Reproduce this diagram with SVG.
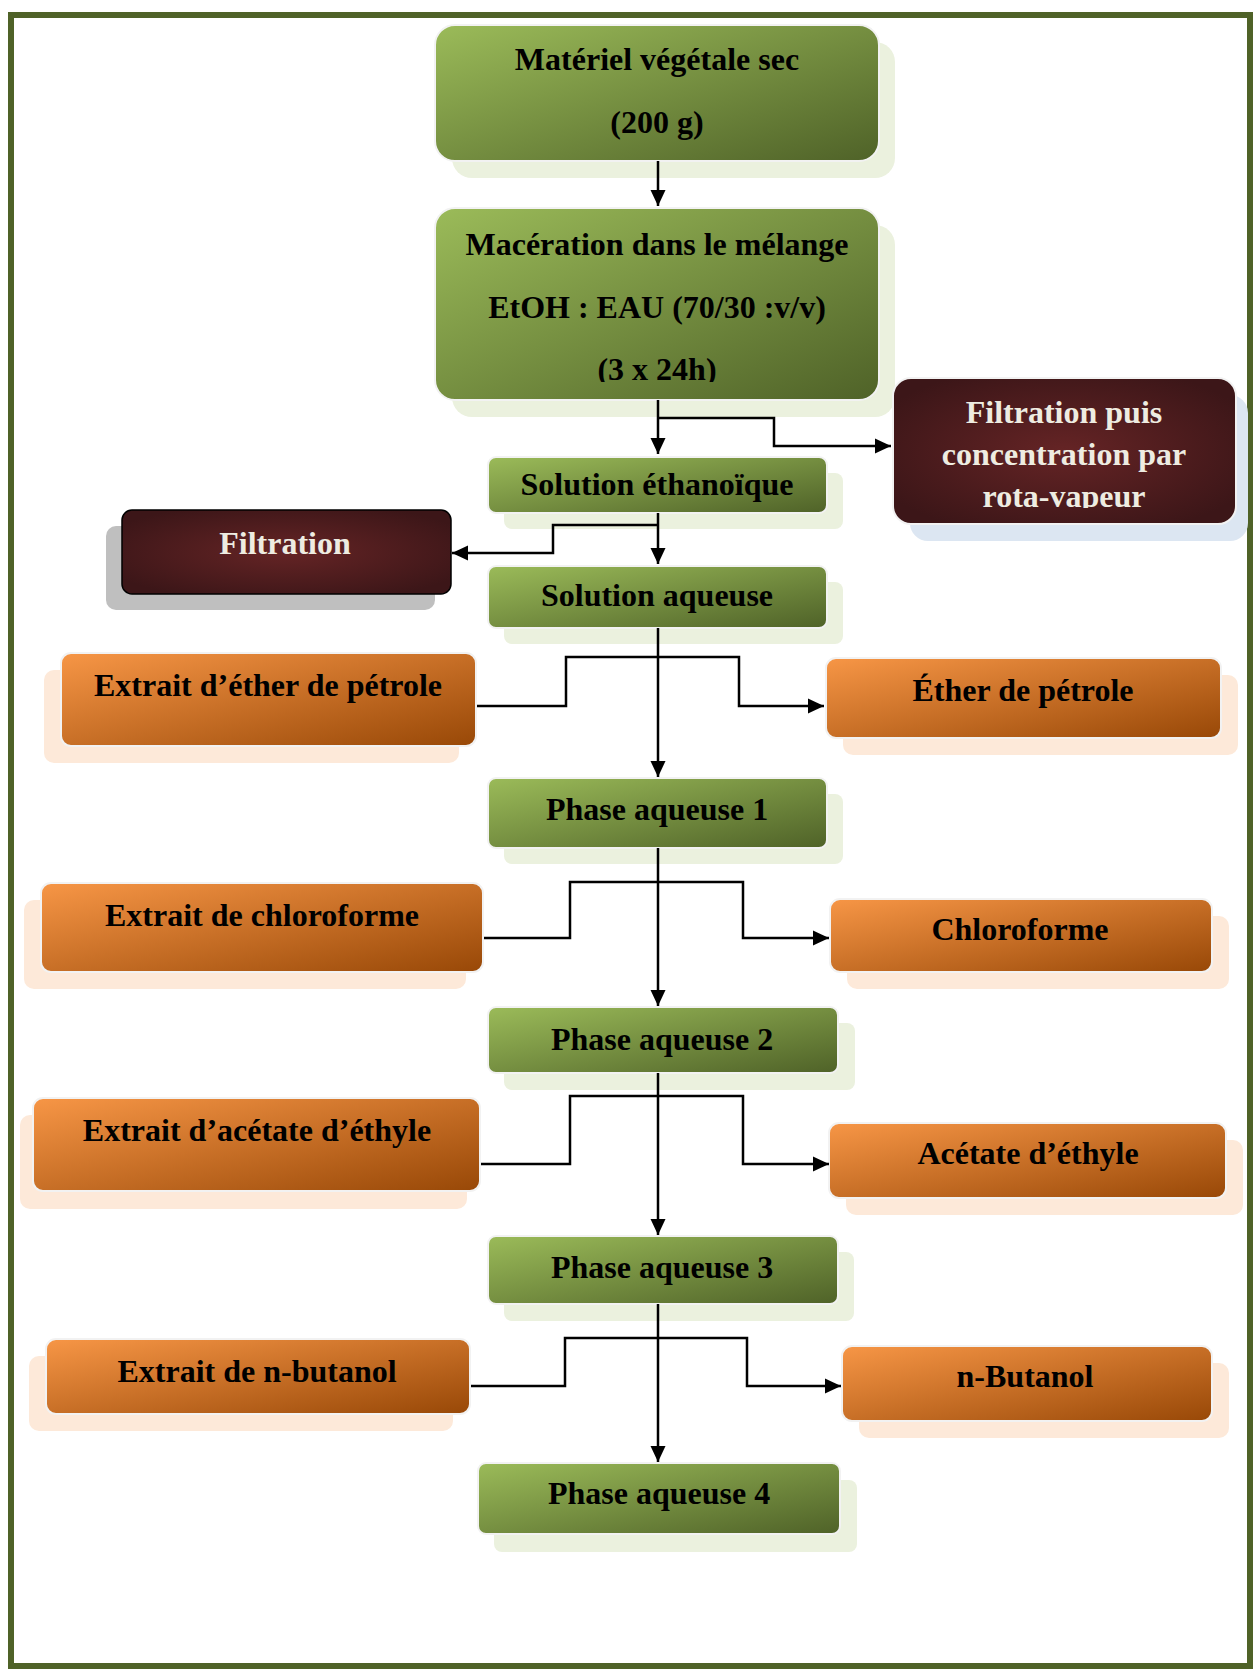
<svg xmlns="http://www.w3.org/2000/svg" width="1253" height="1669" viewBox="0 0 1253 1669">
<defs>
<linearGradient id="gGreen" x1="0" y1="0" x2="1" y2="1">
<stop offset="0" stop-color="#9bbb59"/>
<stop offset="1" stop-color="#4f6228"/>
</linearGradient>
<linearGradient id="gOrange" x1="0" y1="0" x2="1" y2="1">
<stop offset="0" stop-color="#f79646"/>
<stop offset="1" stop-color="#984807"/>
</linearGradient>
<radialGradient id="gRed" cx="0.5" cy="0.5" r="0.6">
<stop offset="0" stop-color="#652425"/>
<stop offset="1" stop-color="#3c1618"/>
</radialGradient>
<marker id="arr" markerUnits="userSpaceOnUse" markerWidth="16" markerHeight="16" refX="16" refY="8" orient="auto">
<path d="M0,0.5 L16,8 L0,15.5 z" fill="#000"/>
</marker>
<clipPath id="clipMac"><rect x="435" y="208" width="444" height="174"/></clipPath>
<clipPath id="clipRota"><rect x="893" y="378" width="343" height="130"/></clipPath>
</defs>
<style>
.green{fill:url(#gGreen);stroke:#f2f2f2;stroke-width:2}
.orange{fill:url(#gOrange);stroke:#f2f2f2;stroke-width:2}
.red{fill:url(#gRed);stroke:#f2f2f2;stroke-width:2}
.sh-g{fill:#ebf1de}
.sh-o{fill:#fde9d9}
.sh-b{fill:#dce6f2}
.sh-k{fill:#bfbfbf}
text{font-family:"Liberation Serif","Times New Roman",serif;font-weight:bold;font-size:32px;text-anchor:middle;fill:#000}
.light{fill:#eeece1}
.c{fill:none;stroke:#000;stroke-width:2.5}
</style>
<rect x="11" y="15" width="1239" height="1651" fill="#fff" stroke="#4f6228" stroke-width="6"/>

<g id="n1">
<rect class="sh-g" x="452" y="42" width="443" height="136" rx="20"/>
<rect class="green" x="435" y="25" width="444" height="136" rx="20"/>
<text x="657" y="70">Matériel végétale sec</text>
<text x="657" y="133">(200 g)</text>
</g>

<g id="n2">
<rect class="sh-g" x="452" y="225" width="443" height="192" rx="20"/>
<rect class="green" x="435" y="208" width="444" height="192" rx="20"/>
<g clip-path="url(#clipMac)">
<text x="657" y="255">Macération dans le mélange</text>
<text x="657" y="318">EtOH : EAU (70/30 :v/v)</text>
<text x="657" y="380">(3 x 24h)</text>
</g>
</g>

<g id="n3">
<rect class="sh-b" x="910" y="395" width="338" height="146" rx="18"/>
<rect class="red" x="893" y="378" width="343" height="146" rx="18"/>
<g clip-path="url(#clipRota)">
<text class="light" x="1064" y="423">Filtration puis</text>
<text class="light" x="1064" y="465">concentration par</text>
<text class="light" x="1064" y="507">rota-vapeur</text>
</g>
</g>

<g id="n4">
<rect class="sh-g" x="504" y="473" width="339" height="56" rx="8"/>
<rect class="green" x="488" y="457" width="339" height="56" rx="8"/>
<text x="657" y="495">Solution éthanoïque</text>
</g>

<g id="n5">
<rect class="sh-k" x="106" y="526" width="329" height="84" rx="10"/>
<rect x="122" y="510" width="329" height="84" rx="10" fill="url(#gRed)" stroke="#000" stroke-width="1.5"/>
<text class="light" x="285" y="554">Filtration</text>
</g>

<g id="n6">
<rect class="sh-g" x="504" y="582" width="339" height="62" rx="8"/>
<rect class="green" x="488" y="566" width="339" height="62" rx="8"/>
<text x="657" y="606">Solution aqueuse</text>
</g>

<g id="n7">
<rect class="sh-o" x="44" y="670" width="415" height="93" rx="10"/>
<rect class="orange" x="61" y="653" width="415" height="93" rx="10"/>
<text x="268" y="696">Extrait d’éther de pétrole</text>
</g>

<g id="n8">
<rect class="sh-o" x="843" y="675" width="395" height="80" rx="10"/>
<rect class="orange" x="826" y="658" width="395" height="80" rx="10"/>
<text x="1023" y="701">Éther de pétrole</text>
</g>

<g id="n9">
<rect class="sh-g" x="504" y="794" width="339" height="70" rx="8"/>
<rect class="green" x="488" y="778" width="339" height="70" rx="8"/>
<text x="657" y="820">Phase aqueuse 1</text>
</g>

<g id="n10">
<rect class="sh-o" x="24" y="900" width="442" height="89" rx="10"/>
<rect class="orange" x="41" y="883" width="442" height="89" rx="10"/>
<text x="262" y="926">Extrait de chloroforme</text>
</g>

<g id="n11">
<rect class="sh-o" x="847" y="916" width="382" height="73" rx="10"/>
<rect class="orange" x="830" y="899" width="382" height="73" rx="10"/>
<text x="1020" y="940">Chloroforme</text>
</g>

<g id="n12">
<rect class="sh-g" x="504" y="1023" width="351" height="67" rx="8"/>
<rect class="green" x="488" y="1007" width="350" height="66" rx="8"/>
<text x="662" y="1050">Phase aqueuse 2</text>
</g>

<g id="n13">
<rect class="sh-o" x="20" y="1115" width="447" height="94" rx="10"/>
<rect class="orange" x="33" y="1098" width="447" height="93" rx="10"/>
<text x="257" y="1141">Extrait d’acétate d’éthyle</text>
</g>

<g id="n14">
<rect class="sh-o" x="846" y="1140" width="397" height="75" rx="10"/>
<rect class="orange" x="829" y="1123" width="397" height="75" rx="10"/>
<text x="1028" y="1164">Acétate d’éthyle</text>
</g>

<g id="n15">
<rect class="sh-g" x="504" y="1252" width="350" height="69" rx="8"/>
<rect class="green" x="488" y="1236" width="350" height="68" rx="8"/>
<text x="662" y="1278">Phase aqueuse 3</text>
</g>

<g id="n16">
<rect class="sh-o" x="29" y="1356" width="424" height="75" rx="10"/>
<rect class="orange" x="46" y="1339" width="424" height="75" rx="10"/>
<text x="257" y="1382">Extrait de n-butanol</text>
</g>

<g id="n17">
<rect class="sh-o" x="859" y="1363" width="370" height="75" rx="10"/>
<rect class="orange" x="842" y="1346" width="370" height="75" rx="10"/>
<text x="1025" y="1387">n-Butanol</text>
</g>

<g id="n18">
<rect class="sh-g" x="494" y="1480" width="363" height="72" rx="8"/>
<rect class="green" x="478" y="1463" width="362" height="71" rx="8"/>
<text x="659" y="1504">Phase aqueuse 4</text>
</g>

<g id="connectors">
<path class="c" d="M658,161 V206" marker-end="url(#arr)"/>
<path class="c" d="M658,400 V454" marker-end="url(#arr)"/>
<path class="c" d="M658,418 H774 V446 H891" marker-end="url(#arr)"/>
<path class="c" d="M658,513 V564" marker-end="url(#arr)"/>
<path class="c" d="M658,525 H553 V553 H452" marker-end="url(#arr)"/>
<path class="c" d="M658,628 V777" marker-end="url(#arr)"/>
<path class="c" d="M477,706 H566 V657 H739 V706 H824" marker-end="url(#arr)"/>
<path class="c" d="M658,848 V1006" marker-end="url(#arr)"/>
<path class="c" d="M484,938 H570 V882 H743 V938 H829" marker-end="url(#arr)"/>
<path class="c" d="M658,1073 V1235" marker-end="url(#arr)"/>
<path class="c" d="M481,1164 H570 V1096 H743 V1164 H829" marker-end="url(#arr)"/>
<path class="c" d="M658,1304 V1462" marker-end="url(#arr)"/>
<path class="c" d="M471,1386 H565 V1338 H747 V1386 H841" marker-end="url(#arr)"/>
</g>
</svg>
